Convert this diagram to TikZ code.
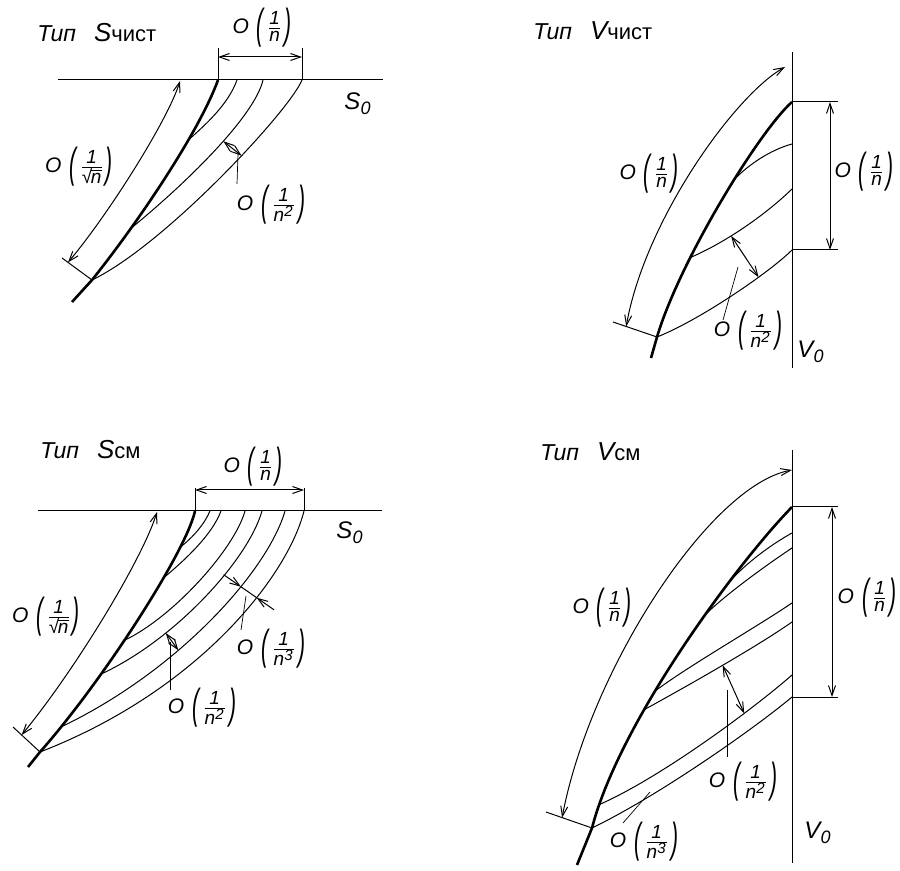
\documentclass[tikz,border=0pt]{standalone}
\usepackage{fontspec}
\usepackage{graphicx}
\setmainfont{Liberation Sans}
\usetikzlibrary{arrows.meta,calc}
\newcommand\fr[1]{\mbox{\fontsize{9.5}{10}\selectfont\itshape #1}}
\newcommand\lpar{$\vcenter{\hbox{\scalebox{1}[2.0]{(}}}$}
\newcommand\rpar{$\vcenter{\hbox{\scalebox{1}[2.0]{)}}}$}
\newcommand\Olab[1]{O\hspace{4pt}\lpar\hspace{1.5pt}$\textstyle\frac{\fr{1}}{#1}$\hspace{1pt}\rpar}
\newcommand\Osq{\Olab{\fr{√}\kern-0.6pt\overline{\fr{n}}}}
\newcommand\nn{\fr{n}}
\newcommand\nsq[1]{\fr{n}^{\mbox{\fontsize{7.5}{8}\selectfont\itshape #1}}}
\newcommand\ttltext[2]{{\fontsize{11.5}{13}\selectfont Тип}\hspace{9pt}{\fontsize{13}{15}\selectfont #1}{\upshape\fontsize{11}{13}\selectfont #2}}
\newcommand\zsub[1]{{\fontsize{12}{14}\selectfont #1}\textsubscript{\fontsize{9}{10}\selectfont 0}}
\begin{document}
\begin{tikzpicture}[x=0.5pt,y=-0.5pt,
  line/.style={line width=0.5pt},
  main/.style={line width=1.3pt},
  dim/.style={line width=0.5pt,<->},
  lead/.style={line width=0.35pt},
  lbl/.style={inner sep=0pt,font=\fontsize{10.5}{12}\selectfont\itshape},
  ttl/.style={inner sep=0pt,font=\itshape},
  >={Straight Barb[length=5pt,width=3.5pt]}]
\useasboundingbox (0,0) rectangle (900,871);

%================ Panel 1: S chist ================
\node[ttl,anchor=base west] (t1) at (37,42) {\ttltext{S}{чист}};
\coordinate (a1L) at (58,80);
\coordinate (a1R) at (383,80);
\draw[line] (a1L) -- (a1R);
\node[lbl] (s01) at (358,104) {\zsub{S}};
\coordinate (p1s) at (218,80);
\coordinate (p1e) at (92,280);
\coordinate (p1t) at (72,302);
\draw[main] (p1s) .. controls (200,130) and (140,220) .. node[pos=0.33,coordinate](m12){} node[pos=0.74,coordinate](m13){} (p1e) -- (p1t);
\coordinate (c12s) at (237,80);
\coordinate (c13s) at (263,80);
\coordinate (c14s) at (302,80);
\draw[line] (c12s) .. controls (228,105) and (205,125) .. (m12);
\draw[line] (c13s) .. controls (255,115) and (190,180) .. node[pos=0.45,coordinate](k13){} (m13);
\draw[line] (c14s) .. controls (290,110) and (165,245) .. node[pos=0.41,coordinate](k14){} (p1e);
\draw[dim] (k13) -- (k14);
\coordinate (l1a) at (238,154);
\coordinate (l1b) at (237,184);
\draw[lead] (l1a) -- (l1b);
\node[lbl] (o12) at (271,205) {\Olab{\nsq{2}}};
\coordinate (tk1) at (62,258);
\coordinate (ar1s) at (180,81);
\coordinate (ar1e) at ($(p1e)!0.8!(tk1)$);
\draw[line] (p1e) -- (tk1);
\draw[dim] (ar1s) .. controls (168,120) and (108,215) .. (ar1e);
\node[lbl] (o11) at (79,167) {\Osq};
\coordinate (d1a) at (218,48);
\coordinate (d1b) at (302,48);
\draw[line] (p1s) -- (d1a);
\draw[line] (c14s) -- (d1b);
\coordinate (d1l) at (218,57);
\coordinate (d1r) at (302,57);
\draw[dim] (d1l) -- (d1r);
\node[lbl] (o1n) at (262,28) {\Olab{\nn}};

%================ Panel 2: V chist ================
\node[ttl,anchor=base west] (t2) at (533,40) {\ttltext{V}{чист}};
\coordinate (v2t) at (792,52);
\coordinate (v2b) at (792,368);
\draw[line] (v2t) -- (v2b);
\node[lbl] (v02) at (811,352) {\zsub{V}};
\coordinate (p2s) at (792,102);
\coordinate (p2e) at (657,337);
\coordinate (p2t) at (651,358);
\draw[main] (p2s) .. controls (760,130) and (680,260) .. node[pos=0.42,coordinate](m22){} node[pos=0.70,coordinate](m23){} (p2e) -- (p2t);
\coordinate (c22s) at (792,144);
\coordinate (c23s) at (792,189);
\coordinate (c24s) at (792,250);
\draw[line] (c22s) .. controls (770,150) and (748,165) .. (m22);
\draw[line] (c23s) .. controls (762,218) and (722,244) .. node[pos=0.6,coordinate](k23){} (m23);
\draw[line] (c24s) .. controls (770,272) and (700,320) .. node[pos=0.32,coordinate](k24){} (p2e);
\draw[dim] (k23) -- (k24);
\coordinate (l2a) at (738,267);
\coordinate (l2b) at (723,320);
\draw[lead] (l2a) -- (l2b);
\node[lbl] (o22) at (748,331) {\Olab{\nsq{2}}};
\coordinate (tk2) at (613,322);
\coordinate (ar2s) at (785,67);
\coordinate (ar2e) at ($(p2e)!0.7!(tk2)$);
\draw[line] (p2e) -- (tk2);
\draw[dim] (ar2s) .. controls (735,95) and (645,220) .. (ar2e);
\node[lbl] (o21) at (649,174) {\Olab{\nn}};
\coordinate (r2a) at (838,102);
\coordinate (r2b) at (838,250);
\draw[line] (p2s) -- (r2a);
\draw[line] (c24s) -- (r2b);
\coordinate (r2u) at (830,102);
\coordinate (r2d) at (830,250);
\draw[dim] (r2u) -- (r2d);
\node[lbl] (o2r) at (864,172) {\Olab{\nn}};

%================ Panel 3: S sm ================
\node[ttl,anchor=base west] (t3) at (40,459) {\ttltext{S}{см}};
\coordinate (a3L) at (38,511);
\coordinate (a3R) at (382,511);
\draw[line] (a3L) -- (a3R);
\node[lbl] (s03) at (350,533) {\zsub{S}};
\coordinate (p3s) at (195,511);
\coordinate (p3e) at (40,752);
\coordinate (p3t) at (28,767);
\draw[main] (p3s) .. controls (186,552) and (102,682) .. node[pos=0.21,coordinate](mA){} node[pos=0.34,coordinate](mB){} node[pos=0.57,coordinate](mC){} node[pos=0.69,coordinate](mD){} node[pos=0.89,coordinate](mE){} (p3e) -- (p3t);
\coordinate (cAs) at (210,511);
\coordinate (cBs) at (221,511);
\coordinate (cCs) at (245,511);
\coordinate (cDs) at (262,511);
\coordinate (cEs) at (285,511);
\coordinate (cFs) at (304,511);
\draw[line] (cAs) .. controls (204,525) and (193,537) .. (mA);
\draw[line] (cBs) .. controls (212,535) and (185,560) .. (mB);
\draw[line] (cCs) .. controls (234,550) and (172,618) .. (mC);
\draw[line] (cDs) .. controls (248,560) and (175,640) .. node[pos=0.70,coordinate](kD){} (mD);
\draw[line] (cEs) .. controls (268,570) and (180,670) .. node[pos=0.63,coordinate](kE){} node[pos=0.36,coordinate](nE){} (mE);
\draw[line] (cFs) .. controls (288,575) and (200,690) .. node[pos=0.37,coordinate](nF){} (p3e);
\draw[dim] (kD) -- (kE);
\coordinate (n3a) at ($(nE)!-1.1!(nF)$);
\coordinate (n3b) at ($(nF)!-1.1!(nE)$);
\draw[line,->] (n3a) -- (nE);
\draw[line,->] (n3b) -- (nF);
\draw[line] (nE) -- (nF);
\coordinate (l3a) at (170,642);
\coordinate (l3b) at (170,690);
\draw[lead] (l3a) -- (l3b);
\node[lbl] (o32) at (202,708) {\Olab{\nsq{2}}};
\coordinate (l3c) at (246,596);
\coordinate (l3d) at (241,630);
\draw[lead] (l3c) -- (l3d);
\node[lbl] (o33) at (271,649) {\Olab{\nsq{3}}};
\coordinate (tk3) at (13,727);
\coordinate (ar3s) at (157,512);
\coordinate (ar3e) at ($(p3e)!0.68!(tk3)$);
\draw[line] (p3e) -- (tk3);
\draw[dim] (ar3s) .. controls (142,560) and (75,670) .. (ar3e);
\node[lbl] (o31) at (46,617) {\Osq};
\coordinate (d3a) at (195,488);
\coordinate (d3b) at (304,488);
\draw[line] (p3s) -- (d3a);
\draw[line] (cFs) -- (d3b);
\coordinate (d3l) at (195,490);
\coordinate (d3r) at (304,490);
\draw[dim] (d3l) -- (d3r);
\node[lbl] (o3n) at (253,467) {\Olab{\nn}};

%================ Panel 4: V sm ================
\node[ttl,anchor=base west] (t4) at (540,461) {\ttltext{V}{см}};
\coordinate (v4t) at (792,450);
\coordinate (v4b) at (792,863);
\draw[line] (v4t) -- (v4b);
\node[lbl] (v04) at (818,833) {\zsub{V}};
\coordinate (p4s) at (792,507);
\coordinate (p4e) at (592,828);
\coordinate (p4t) at (577,865);
\draw[main] (p4s) .. controls (740,560) and (620,720) .. node[pos=0.34,coordinate](q1){} node[pos=0.41,coordinate](q2){} node[pos=0.62,coordinate](q3){} node[pos=0.67,coordinate](q4){} node[pos=0.93,coordinate](q5){} (p4e) -- (p4t);
\coordinate (e1s) at (792,533);
\coordinate (e2s) at (792,548);
\coordinate (e3s) at (792,603);
\coordinate (e4s) at (792,622);
\coordinate (e5s) at (792,675);
\coordinate (e6s) at (792,697);
\draw[line] (e1s) .. controls (765,548) and (735,572) .. (q1);
\draw[line] (e2s) .. controls (765,566) and (725,595) .. (q2);
\draw[line] (e3s) .. controls (755,628) and (690,665) .. (q3);
\draw[line] (e4s) .. controls (755,648) and (680,690) .. node[pos=0.47,coordinate](k4){} (q4);
\draw[line] (e5s) .. controls (752,710) and (660,778) .. node[pos=0.3,coordinate](k5){} (q5);
\draw[line] (e6s) .. controls (755,728) and (660,795) .. (p4e);
\draw[dim] (k4) -- (k5);
\coordinate (l4a) at (727,690);
\coordinate (l4b) at (727,757);
\draw[lead] (l4a) -- (l4b);
\node[lbl] (o42) at (743,782) {\Olab{\nsq{2}}};
\coordinate (l4c) at (650,792);
\coordinate (l4d) at (623,823);
\draw[lead] (l4c) -- (l4d);
\node[lbl] (o43) at (644,842) {\Olab{\nsq{3}}};
\coordinate (tk4) at (546,812);
\coordinate (ar4s) at (792,470);
\coordinate (ar4e) at ($(p4e)!0.65!(tk4)$);
\draw[line] (p4e) -- (tk4);
\draw[dim] (ar4s) .. controls (710,485) and (590,670) .. (ar4e);
\node[lbl] (o41) at (602,608) {\Olab{\nn}};
\coordinate (r4a) at (838,507);
\coordinate (r4b) at (838,697);
\draw[line] (p4s) -- (r4a);
\draw[line] (e6s) -- (r4b);
\coordinate (r4u) at (832,507);
\coordinate (r4d) at (832,697);
\draw[dim] (r4u) -- (r4d);
\node[lbl] (o4r) at (867,598) {\Olab{\nn}};
\end{tikzpicture}
\end{document}
